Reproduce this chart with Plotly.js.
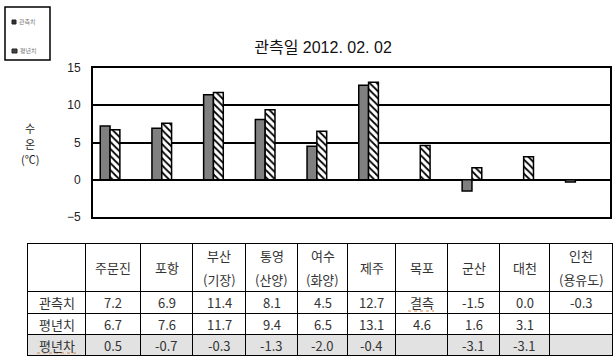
<!DOCTYPE html>
<html>
<head>
<meta charset="utf-8">
<script src="https://cdn.plot.ly/plotly-3.0.1.min.js"></script>
<style>html,body{margin:0;padding:0;background:#fff;}#chart{width:615px;height:359px;}</style>
</head>
<body>
<div id="chart"></div>
<script>
// ---- data ----
const stations = ["주문진", "포항", "부산", "통영", "여수", "제주", "목포", "군산", "대천", "인천"];
const headerLabels = [["주문진"], ["포항"], ["부산", "(기장)"], ["통영", "(산양)"], ["여수", "(화양)"], ["제주"], ["목포"], ["군산"], ["대천"], ["인천", "(용유도)"]];
const observed = [7.2, 6.9, 11.4, 8.1, 4.5, 12.7, null, -1.5, 0.0, -0.3];
const normal = [6.7, 7.6, 11.7, 9.4, 6.5, 13.1, 4.6, 1.6, 3.1, null];
const anomaly = [0.5, -0.7, -0.3, -1.3, -2.0, -0.4, null, -3.1, -3.1, null];
const rowLabels = ["관측치", "평년치", "평년차"];
const seriesNames = ["관측치", "평년치"];
const missingText = "결측";
const yTicks = [-5, 0, 5, 10, 15];

// ---- layout geometry (pixels) ----
const W = 615, H = 359;
const px = x => x / W;
const py = y => 1 - y / H;
const colEdges = [27, 85, 140, 192, 245, 297, 347, 395, 447, 499, 549, 612];
const rowEdges = [243, 291, 313, 334, 355];

const fmt = v => (v === null ? "" : v.toFixed(1));
const rowsText = [
  observed.map(v => (v === null ? missingText : fmt(v))),
  normal.map(fmt),
  anomaly.map(fmt)
];

const traces = [
  {
    type: "bar", name: seriesNames[0], x: stations, y: observed,
    marker: {color: "#808080", line: {color: "#000", width: 1.5}},
    hoverinfo: "skip", showlegend: false
  },
  {
    type: "bar", name: seriesNames[1], x: stations, y: normal,
    marker: {color: "#fff", line: {color: "#000", width: 1.5},
      pattern: {shape: "\\", fgcolor: "#000", bgcolor: "#fff", size: 5, solidity: 0.35}},
    hoverinfo: "skip", showlegend: false
  }
];

const shapes = [];
const annotations = [];
const tableFont = {family: "Noto Sans CJK KR", size: 13, color: "#333"};

// grey background of the anomaly row
shapes.push({type: "rect", xref: "paper", yref: "paper", layer: "below",
  x0: px(colEdges[0]), x1: px(colEdges[colEdges.length - 1]), y0: py(rowEdges[3]), y1: py(rowEdges[4]),
  line: {width: 0}, fillcolor: "#e2e2e2"});
// table grid lines
colEdges.forEach(x => shapes.push({type: "line", xref: "paper", yref: "paper",
  x0: px(x + 0.5), x1: px(x + 0.5), y0: py(rowEdges[0]), y1: py(rowEdges[rowEdges.length - 1]),
  line: {color: "#000", width: 1}}));
rowEdges.forEach(y => shapes.push({type: "line", xref: "paper", yref: "paper",
  x0: px(colEdges[0]), x1: px(colEdges[colEdges.length - 1] + 1), y0: py(y + 0.5), y1: py(y + 0.5),
  line: {color: "#000", width: 1}}));

const colCenter = i => (colEdges[i] + colEdges[i + 1]) / 2 + 0.5;
const rowCenter = r => (rowEdges[r] + rowEdges[r + 1]) / 2 + 0.5;
const addText = (t, x, y) => annotations.push({text: t, xref: "paper", yref: "paper",
  x: px(x), y: py(y), xanchor: "center", yanchor: "middle", showarrow: false, font: tableFont});

// header row
headerLabels.forEach((lines, i) => {
  const cx = colCenter(i + 1);
  if (lines.length === 1) addText(lines[0], cx, rowCenter(0));
  else { addText(lines[0], cx, rowCenter(0) - 12); addText(lines[1], cx, rowCenter(0) + 12); }
});
// body rows
rowLabels.forEach((lab, r) => {
  addText(lab, colCenter(0), rowCenter(r + 1));
  rowsText[r].forEach((t, i) => { if (t !== "") addText(t, colCenter(i + 1), rowCenter(r + 1)); });
});
// spell-check style dotted underlines as in the source image
shapes.push({type: "line", xref: "paper", yref: "paper", x0: px(37), x1: px(77), y0: py(353), y1: py(353),
  line: {color: "#d9894a", width: 1, dash: "dot"}});
shapes.push({type: "line", xref: "paper", yref: "paper", x0: px(408), x1: px(434), y0: py(311), y1: py(311),
  line: {color: "#d9894a", width: 1, dash: "dot"}});

// legend box (manual, tiny as in the source)
shapes.push({type: "rect", xref: "paper", yref: "paper", x0: px(5), x1: px(50), y0: py(7), y1: py(60),
  line: {color: "#000", width: 1.5}, fillcolor: "rgba(0,0,0,0)"});
shapes.push({type: "rect", xref: "paper", yref: "paper", x0: px(12), x1: px(16), y0: py(20), y1: py(24),
  line: {color: "#222", width: 1}, fillcolor: "#333"});
shapes.push({type: "rect", xref: "paper", yref: "paper", x0: px(12), x1: px(17), y0: py(49), y1: py(53),
  line: {color: "#222", width: 1}, fillcolor: "#444"});
annotations.push({text: seriesNames[0], xref: "paper", yref: "paper", x: px(17), y: py(22), xanchor: "left", yanchor: "middle",
  showarrow: false, font: {family: "Noto Sans CJK KR", size: 6, color: "#777"}});
annotations.push({text: seriesNames[1], xref: "paper", yref: "paper", x: px(18), y: py(51), xanchor: "left", yanchor: "middle",
  showarrow: false, font: {family: "Noto Sans CJK KR", size: 6, color: "#777"}});

// y-axis title, stacked vertically
[["수", 128], ["온", 144], ["(℃)", 159]].forEach(([t, y]) => annotations.push({text: t, xref: "paper", yref: "paper",
  x: px(30), y: py(y), xanchor: "center", yanchor: "middle", showarrow: false,
  font: {family: "Noto Sans CJK KR", size: 11, color: "#222"}}));

const layout = {
  width: W, height: H,
  margin: {l: 0, r: 0, t: 0, b: 0},
  paper_bgcolor: "#fff", plot_bgcolor: "#fff",
  showlegend: false,
  barmode: "group", bargap: 0.62, bargroupgap: 0,
  title: {
    text: "관측일 2012. 02. 02",
    x: px(323), xanchor: "center", xref: "paper",
    y: py(47), yanchor: "middle", yref: "paper",
    font: {family: "Liberation Sans, Noto Sans CJK KR", size: 16, color: "#111"}
  },
  xaxis: {
    domain: [px(93), px(610)],
    type: "category",
    range: [-0.33, 9.67],
    showticklabels: false, ticks: "",
    showgrid: false, zeroline: false,
    showline: true, mirror: true, linecolor: "#000", linewidth: 2,
    fixedrange: true
  },
  yaxis: {
    domain: [py(217), py(68)],
    range: [-5, 15],
    tickvals: yTicks,
    ticks: "", ticklabelstandoff: 8,
    tickfont: {family: "Liberation Sans", size: 12, color: "#222"},
    showgrid: true, gridcolor: "#000", gridwidth: 2,
    zeroline: true, zerolinecolor: "#000", zerolinewidth: 2,
    showline: true, mirror: true, linecolor: "#000", linewidth: 2,
    fixedrange: true
  },
  shapes: shapes,
  annotations: annotations
};

Plotly.newPlot("chart", traces, layout, {staticPlot: true, displayModeBar: false});
</script>
</body>
</html>
